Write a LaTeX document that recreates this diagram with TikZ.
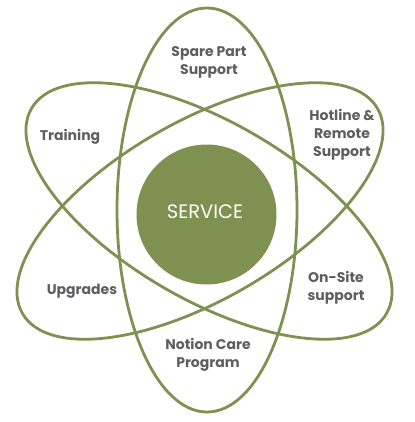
\documentclass[tikz,border=0pt]{standalone}
\usepackage{fontspec}
\setmainfont{Poppins}
\definecolor{olive}{HTML}{7E9150}
\definecolor{txtgray}{HTML}{5E5E62}
\begin{document}
\begin{tikzpicture}[x=1pt,y=-1pt,
  orbit/.style={draw=olive,line width=2.8pt},
  lbl/.style={text=txtgray,font=\fontsize{14}{18}\selectfont\bfseries,align=center,inner sep=0pt}]
\useasboundingbox (0,0) rectangle (414,422);
\coordinate (c) at (207,210);
\coordinate (ca) at (200,211);
\coordinate (cb) at (209,211);
\draw[orbit] (c) ellipse[x radius=90,y radius=202];
\draw[orbit,rotate around={60:(cb)}] (cb) ellipse[x radius=89,y radius=205];
\draw[orbit,rotate around={-60:(ca)}] (ca) ellipse[x radius=89,y radius=205];
\node[circle,fill=olive,minimum size=140pt,inner sep=0pt] (svc) at (206.5,214.5) {};
\node[text=white,font=\fontsize{19.5}{20}\selectfont,inner sep=0pt] (svct) at (205,212) {SERVICE};
\node[lbl] (spare) at (209,62) {Spare Part\\Support};
\node[lbl] (train) at (70,137) {Training};
\node[lbl] (hot) at (342,135) {Hotline \&\\Remote\\Support};
\node[lbl] (upg) at (82,291) {Upgrades};
\node[lbl] (onsite) at (336,288) {On-Site\\support};
\node[lbl] (care) at (208,355) {Notion Care\\Program};
\end{tikzpicture}
\end{document}
